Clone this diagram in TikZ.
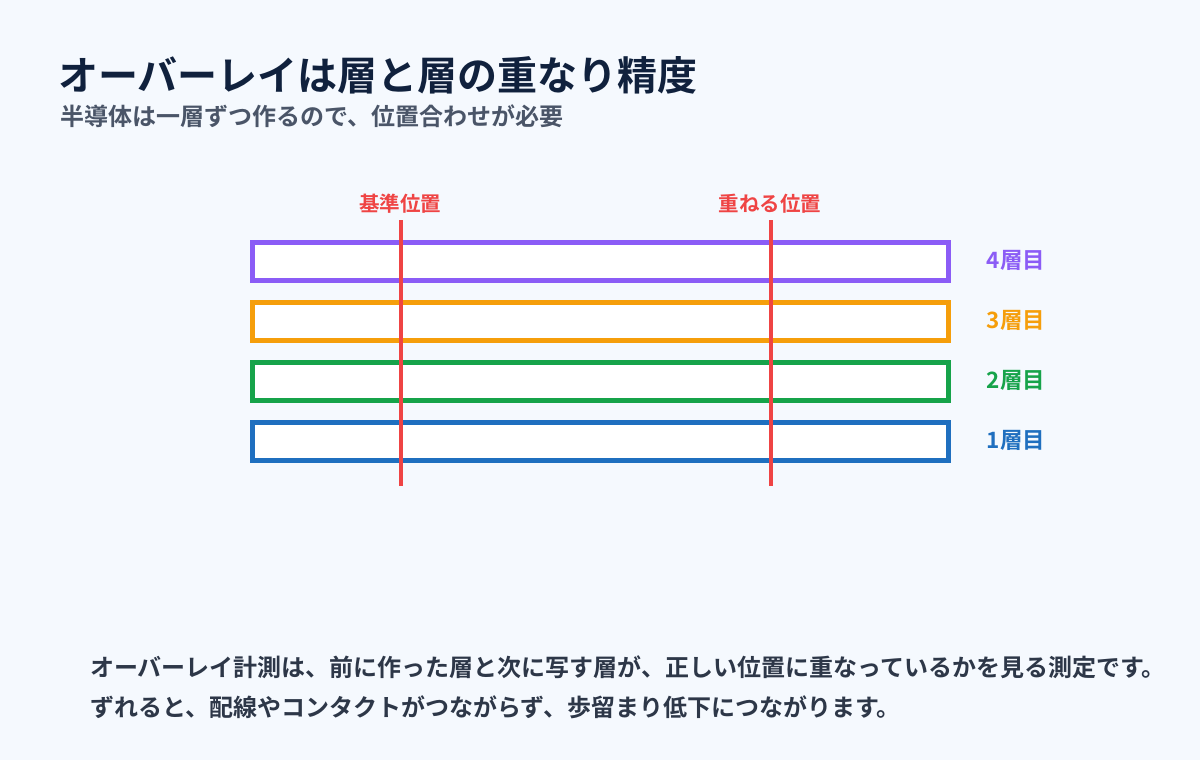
\documentclass[tikz,border=0pt]{standalone}
\usepackage{fontspec}
\setmainfont{Noto Sans CJK JP}[BoldFont={Noto Sans CJK JP Bold}]
\definecolor{bg}{HTML}{F5F9FE}
\definecolor{titlec}{HTML}{10213D}
\definecolor{subc}{HTML}{4A5568}
\definecolor{bodyc}{HTML}{2D3748}
\definecolor{redc}{HTML}{EF4444}
\definecolor{l4}{HTML}{8B5CF6}
\definecolor{l3}{HTML}{F59E0B}
\definecolor{l2}{HTML}{16A34A}
\definecolor{l1}{HTML}{1F6FBF}
\tikzset{
  layerbox/.style={draw=#1, line width=4.5pt, fill=white, minimum width=696pt, minimum height=38pt, inner sep=0pt, anchor=center},
  layerlabel/.style={text=#1, font=\bfseries\fontsize{22.5}{26}\selectfont, anchor=center, inner sep=0pt},
  poslabel/.style={text=redc, font=\bfseries\fontsize{20.5}{24}\selectfont, anchor=center, inner sep=0pt},
  posline/.style={draw=redc, line width=4pt},
}
\begin{document}
\begin{tikzpicture}[x=1pt,y=-1pt]
\fill[bg] (0,0) rectangle (1200,760);
\useasboundingbox (0,0) rectangle (1200,760);
\node[anchor=west, inner sep=0pt, text=titlec, font=\bfseries\fontsize{40}{46}\selectfont] (title) at (58,75) {オーバーレイは層と層の重なり精度};
\node[anchor=west, inner sep=0pt, text=subc, font=\bfseries\fontsize{24}{28}\selectfont] (sub) at (60,116) {半導体は一層ずつ作るので、位置合わせが必要};
\node[layerbox=l4] (b4) at (600.5,261.5) {};
\node[layerbox=l3] (b3) at (600.5,321.5) {};
\node[layerbox=l2] (b2) at (600.5,381.5) {};
\node[layerbox=l1] (b1) at (600.5,441.5) {};
\node[layerlabel=l4] (t4) at (1016,260) {4層目};
\node[layerlabel=l3] (t3) at (1016,320) {3層目};
\node[layerlabel=l2] (t2) at (1016,380) {2層目};
\node[layerlabel=l1] (t1) at (1016,440) {1層目};
\node[poslabel] (p1) at (400,204) {基準位置};
\node[poslabel] (p2) at (770,204) {重ねる位置};
\coordinate (a1) at (401,220);
\coordinate (a2) at (401,486);
\coordinate (c1) at (771,220);
\coordinate (c2) at (771,486);
\draw[posline] (a1) -- (a2);
\draw[posline] (c1) -- (c2);
\node[anchor=west, inner sep=0pt, text=bodyc, font=\bfseries\fontsize{24}{28}\selectfont] (l1) at (90,667) {オーバーレイ計測は、前に作った層と次に写す層が、正しい位置に重なっているかを見る測定です。};
\node[anchor=west, inner sep=0pt, text=bodyc, font=\bfseries\fontsize{24}{28}\selectfont] (l2) at (90,707) {ずれると、配線やコンタクトがつながらず、歩留まり低下につながります。};
\end{tikzpicture}
\end{document}
